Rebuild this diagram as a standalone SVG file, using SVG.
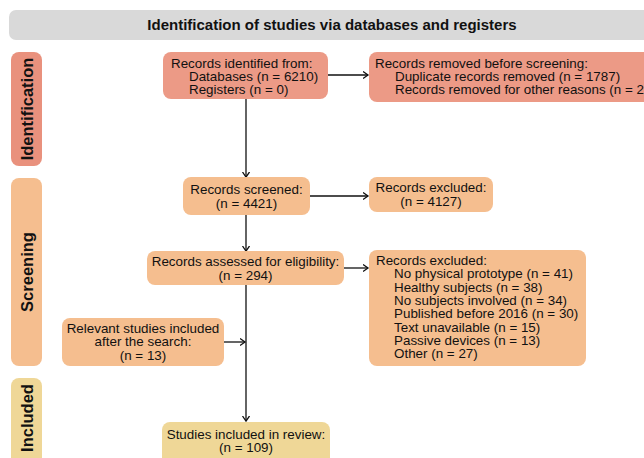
<svg xmlns="http://www.w3.org/2000/svg" width="644" height="458" viewBox="0 0 644 458">
<defs>
<style>
text{font-family:"Liberation Sans",Arial,sans-serif;fill:#111}
.t{font-size:13.4px}
.c{text-anchor:middle}
.hd{font-size:15px;font-weight:bold;text-anchor:middle}
.side{font-size:16.5px;font-weight:bold;text-anchor:middle}
.id{fill:#ec9a86}
.sc{fill:#f5be8f}
.in{fill:#efd797}
.cn{stroke:#111;stroke-width:1.3;fill:none}
</style>
<marker id="ah" markerUnits="userSpaceOnUse" markerWidth="10" markerHeight="10" refX="5.5" refY="4" orient="auto" viewBox="0 0 10 10">
<path d="M0.5,0.5 L5.5,4 L0.5,7.5" fill="none" stroke="#111" stroke-width="1.3"/>
</marker>
</defs>
<rect width="644" height="458" fill="#fff"/>
<g id="header">
<rect x="9" y="10" width="660" height="30" rx="7" fill="#d9d9d9"/>
<text class="hd" x="332" y="30">Identification of studies via databases and registers</text>
</g>
<g id="side-identification">
<rect x="11" y="52" width="31" height="114" rx="8" fill="#e9917d"/>
<text class="side" transform="translate(32.5,109) rotate(-90)">Identification</text>
</g>
<g id="side-screening">
<rect class="sc" x="11" y="178" width="31" height="188" rx="8"/>
<text class="side" transform="translate(32.5,272) rotate(-90)">Screening</text>
</g>
<g id="side-included">
<rect class="in" x="11" y="378" width="31" height="95" rx="8"/>
<text class="side" transform="translate(32.5,418) rotate(-90)">Included</text>
</g>
<g id="connectors">
<line class="cn" x1="246" y1="99" x2="246" y2="177" marker-end="url(#ah)"/>
<line class="cn" x1="246" y1="215" x2="246" y2="251" marker-end="url(#ah)"/>
<line class="cn" x1="246" y1="285" x2="246" y2="421" marker-end="url(#ah)"/>
<line class="cn" x1="328" y1="75" x2="368" y2="75" marker-end="url(#ah)"/>
<line class="cn" x1="310" y1="196" x2="368" y2="196" marker-end="url(#ah)"/>
<line class="cn" x1="344" y1="268" x2="368" y2="268" marker-end="url(#ah)"/>
<line class="cn" x1="224" y1="342" x2="245" y2="342" marker-end="url(#ah)"/>
</g>
<g id="n-identified">
<rect class="id" x="163" y="52" width="165" height="47" rx="8"/>
<text class="t" x="171" y="67.5">Records identified from:</text>
<text class="t" x="189" y="80.8">Databases (n = 6210)</text>
<text class="t" x="189" y="94.1">Registers (n = 0)</text>
</g>
<g id="n-removed">
<rect class="id" x="369" y="52" width="300" height="50" rx="8"/>
<text class="t" x="375" y="67.5">Records removed before screening:</text>
<text class="t" x="395" y="80.8">Duplicate records removed (n = 1787)</text>
<text class="t" x="395" y="94.1">Records removed for other reasons (n = 2</text>
</g>
<g id="n-screened">
<rect class="sc" x="183" y="177" width="127" height="38" rx="8"/>
<text class="t c" x="246.5" y="194">Records screened:</text>
<text class="t c" x="246.5" y="207.5">(n = 4421)</text>
</g>
<g id="n-excluded1">
<rect class="sc" x="369" y="177" width="124" height="35" rx="8"/>
<text class="t c" x="431" y="192">Records excluded:</text>
<text class="t c" x="431" y="206">(n = 4127)</text>
</g>
<g id="n-assessed">
<rect class="sc" x="147" y="251" width="197" height="34" rx="8"/>
<text class="t c" x="245.5" y="266">Records assessed for eligibility:</text>
<text class="t c" x="245.5" y="279.5">(n = 294)</text>
</g>
<g id="n-excluded2">
<rect class="sc" x="369" y="250" width="217" height="116" rx="8"/>
<text class="t" x="376" y="265">Records excluded:</text>
<text class="t" x="394" y="278.3">No physical prototype (n = 41)</text>
<text class="t" x="394" y="291.6">Healthy subjects (n = 38)</text>
<text class="t" x="394" y="304.9">No subjects involved (n = 34)</text>
<text class="t" x="394" y="318.2">Published before 2016 (n = 30)</text>
<text class="t" x="394" y="331.5">Text unavailable (n = 15)</text>
<text class="t" x="394" y="344.8">Passive devices (n = 13)</text>
<text class="t" x="394" y="358.1">Other (n = 27)</text>
</g>
<g id="n-relevant">
<rect class="sc" x="62" y="318" width="162" height="48" rx="8"/>
<text class="t c" x="143" y="333">Relevant studies included</text>
<text class="t c" x="143" y="346.3">after the search:</text>
<text class="t c" x="143" y="359.6">(n = 13)</text>
</g>
<g id="n-included">
<rect class="in" x="162" y="422" width="168" height="45" rx="8"/>
<text class="t c" x="246" y="439">Studies included in review:</text>
<text class="t c" x="246" y="452.3">(n = 109)</text>
</g>
</svg>
